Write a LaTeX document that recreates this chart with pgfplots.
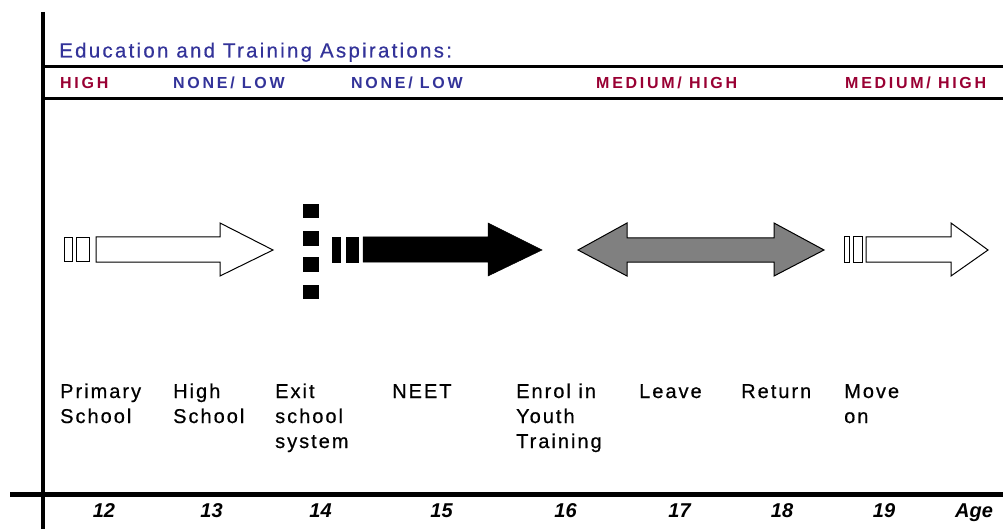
\documentclass[border=0pt]{standalone}
\usepackage{pgfplots}
\pgfplotsset{compat=1.18}
\usepackage{fontspec}
\setmainfont{Liberation Sans}
\definecolor{ttlblue}{RGB}{51,51,153}
\definecolor{crim}{RGB}{153,0,51}
\definecolor{arrgray}{RGB}{128,128,128}
\newcommand{\titlefont}{\fontsize{20.5}{24}\selectfont\addfontfeature{LetterSpace=11,FakeBold=0.5}}
\newcommand{\catfont}{\fontsize{16}{18}\selectfont\bfseries\addfontfeature{LetterSpace=17}}
\newcommand{\labfont}{\fontsize{20}{25}\selectfont\addfontfeature{LetterSpace=10,FakeBold=0.6}}
\newcommand{\agefont}{\fontsize{20}{24}\selectfont\bfseries\itshape}
\begin{document}
\begin{tikzpicture}
\useasboundingbox (0,0) rectangle (1003pt,529pt);
\begin{axis}[
  width=1003pt, height=529pt, scale only axis,
  xmin=0, xmax=1003, ymin=0, ymax=529, y dir=reverse,
  hide axis, clip=true,
]
% frame lines
\addplot[black, line width=4pt] coordinates {(43,12) (43,529)};
\addplot[black, line width=3pt] coordinates {(43,66.5) (1003,66.5)};
\addplot[black, line width=3pt] coordinates {(43,99) (1003,99)};
\addplot[black, line width=5pt] coordinates {(10,494.5) (1003,494.5)};

% arrow 1 (white)
\addplot[draw=black, fill=white, line width=1pt] coordinates {(64,238) (72,238) (72,261) (64,261)} -- cycle;
\addplot[draw=black, fill=white, line width=1pt] coordinates {(76,238) (89,238) (89,261) (76,261)} -- cycle;
\addplot[draw=black, fill=white, line width=1pt] coordinates {(96,237) (220,237) (220,223) (273,250) (220,276) (220,262) (96,262)} -- cycle;

% dotted exit marks
\addplot[draw=none, fill=black] coordinates {(303,204) (319,204) (319,218) (303,218)} -- cycle;
\addplot[draw=none, fill=black] coordinates {(303,231) (319,231) (319,246) (303,246)} -- cycle;
\addplot[draw=none, fill=black] coordinates {(303,257) (319,257) (319,272) (303,272)} -- cycle;
\addplot[draw=none, fill=black] coordinates {(303,285) (319,285) (319,299) (303,299)} -- cycle;

% arrow 2 (black)
\addplot[draw=black, fill=black, line width=0.5pt] coordinates {(332,237) (340,237) (340,262) (332,262)} -- cycle;
\addplot[draw=black, fill=black, line width=0.5pt] coordinates {(346,237) (358,237) (358,262) (346,262)} -- cycle;
\addplot[draw=black, fill=black, line width=0.5pt] coordinates {(363,237) (488,237) (488,223) (542,250) (488,276) (488,262) (363,262)} -- cycle;

% arrow 3 (grey double)
\addplot[draw=black, fill=arrgray, line width=1pt] coordinates {(578,250) (627,223) (627,238) (774,238) (774,223) (824,250) (774,276) (774,262) (627,262) (627,276)} -- cycle;

% arrow 4 (white)
\addplot[draw=black, fill=white, line width=1pt] coordinates {(844,237) (849,237) (849,262) (844,262)} -- cycle;
\addplot[draw=black, fill=white, line width=1pt] coordinates {(853,237) (862,237) (862,262) (853,262)} -- cycle;
\addplot[draw=black, fill=white, line width=1pt] coordinates {(866,237) (951,237) (951,223) (988,250) (951,276) (951,262) (866,262)} -- cycle;

% title
\node[anchor=base west, inner sep=0pt, text=ttlblue] at (axis cs:59,57.5) {\titlefont Education and Training Aspirations:};
% category row
\node[anchor=base west, inner sep=0pt, text=crim] at (axis cs:60,89) {\catfont HIGH};
\node[anchor=base west, inner sep=0pt, text=ttlblue] at (axis cs:173,89) {\catfont NONE/ LOW};
\node[anchor=base west, inner sep=0pt, text=ttlblue] at (axis cs:351,89) {\catfont NONE/ LOW};
\node[anchor=base west, inner sep=0pt, text=crim] at (axis cs:596,89) {\catfont MEDIUM/ HIGH};
\node[anchor=base west, inner sep=0pt, text=crim] at (axis cs:845,89) {\catfont MEDIUM/ HIGH};

% stage labels
\node[anchor=base west, inner sep=0pt] at (axis cs:60,398) {\labfont Primary};
\node[anchor=base west, inner sep=0pt] at (axis cs:60,423) {\labfont School};
\node[anchor=base west, inner sep=0pt] at (axis cs:173,398) {\labfont High};
\node[anchor=base west, inner sep=0pt] at (axis cs:173,423) {\labfont School};
\node[anchor=base west, inner sep=0pt] at (axis cs:275,398) {\labfont Exit};
\node[anchor=base west, inner sep=0pt] at (axis cs:275,423) {\labfont school};
\node[anchor=base west, inner sep=0pt] at (axis cs:275,448) {\labfont system};
\node[anchor=base west, inner sep=0pt] at (axis cs:392,398) {\labfont NEET};
\node[anchor=base west, inner sep=0pt] at (axis cs:516,398) {\labfont Enrol in};
\node[anchor=base west, inner sep=0pt] at (axis cs:516,423) {\labfont Youth};
\node[anchor=base west, inner sep=0pt] at (axis cs:516,448) {\labfont Training};
\node[anchor=base west, inner sep=0pt] at (axis cs:639,398) {\labfont Leave};
\node[anchor=base west, inner sep=0pt] at (axis cs:741,398) {\labfont Return};
\node[anchor=base west, inner sep=0pt] at (axis cs:844,398) {\labfont Move};
\node[anchor=base west, inner sep=0pt] at (axis cs:844,423) {\labfont on};

% ages
\node[anchor=base, inner sep=0pt] at (axis cs:104,517) {\agefont 12};
\node[anchor=base, inner sep=0pt] at (axis cs:211.5,517) {\agefont 13};
\node[anchor=base, inner sep=0pt] at (axis cs:320.5,517) {\agefont 14};
\node[anchor=base, inner sep=0pt] at (axis cs:441.5,517) {\agefont 15};
\node[anchor=base, inner sep=0pt] at (axis cs:565.5,517) {\agefont 16};
\node[anchor=base, inner sep=0pt] at (axis cs:679.5,517) {\agefont 17};
\node[anchor=base, inner sep=0pt] at (axis cs:782,517) {\agefont 18};
\node[anchor=base, inner sep=0pt] at (axis cs:884,517) {\agefont 19};
\node[anchor=base, inner sep=0pt] at (axis cs:974,517) {\agefont Age};
\end{axis}
\end{tikzpicture}
\end{document}
